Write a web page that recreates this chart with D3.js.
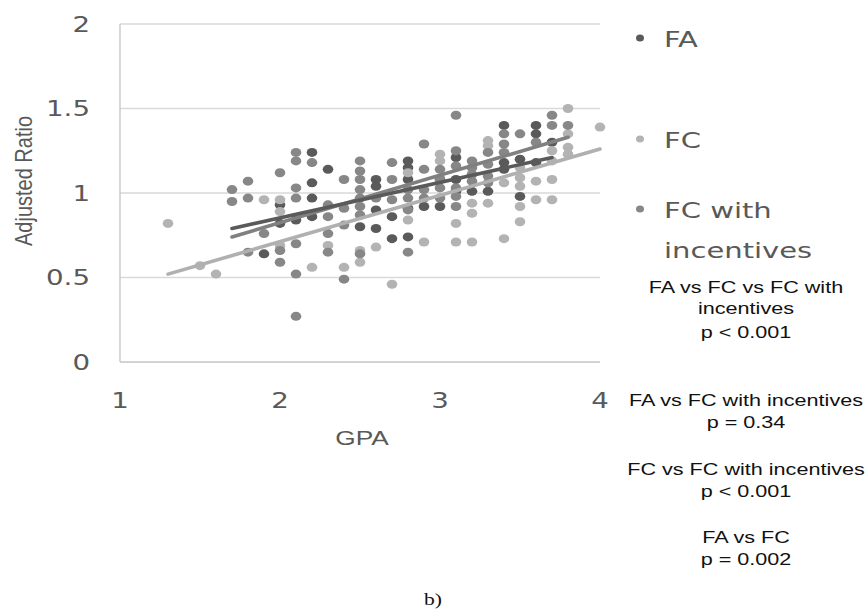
<!DOCTYPE html>
<html lang="en">
<head>
<meta charset="UTF-8">
<title>GPA vs Adjusted Ratio</title>
<script src="https://cdn.jsdelivr.net/npm/d3@7"></script>
<style>
  body { margin: 0; background: #fff; }
</style>
</head>
<body>
<svg width="866" height="610" id="mainsvg"></svg>
<script>
// ---- data: [GPA, adjusted ratio] ----
const faPoints = [
  [1.9, 0.64], [2.0, 0.93], [2.0, 0.82], [2.1, 0.84],
  [2.2, 1.24], [2.2, 1.06], [2.2, 0.97], [2.2, 0.86], [2.3, 1.14],
  [2.5, 0.80], [2.6, 1.08], [2.6, 1.04], [2.6, 0.90], [2.6, 0.79],
  [2.7, 0.86], [2.7, 0.73], [2.8, 1.19], [2.8, 1.15], [2.8, 1.08], [2.8, 0.91], [2.8, 0.74],
  [2.9, 0.92], [3.0, 1.08], [3.0, 0.92], [3.1, 1.21], [3.1, 1.08], [3.1, 1.01],
  [3.2, 1.01], [3.3, 1.01], [3.4, 1.40], [3.4, 1.18], [3.4, 1.14],
  [3.5, 1.20], [3.5, 0.98], [3.6, 1.40], [3.6, 1.35], [3.6, 1.18], [3.7, 1.30]
];
const fcPoints = [
  [1.3, 0.82], [1.5, 0.57], [1.6, 0.52], [1.9, 0.96], [2.0, 0.96], [2.0, 0.89], [2.0, 0.69],
  [2.2, 0.56], [2.3, 0.69], [2.4, 0.56], [2.5, 0.66], [2.5, 0.59], [2.6, 0.68], [2.7, 0.46],
  [2.8, 1.12], [2.8, 0.84], [2.9, 0.71], [3.0, 1.23], [3.0, 1.19],
  [3.1, 0.82], [3.1, 0.71], [3.2, 0.94], [3.2, 0.88], [3.2, 0.71],
  [3.3, 1.31], [3.3, 1.28], [3.3, 0.94], [3.4, 1.06], [3.4, 0.73],
  [3.5, 1.15], [3.5, 1.09], [3.5, 1.04], [3.5, 0.92], [3.5, 0.83],
  [3.6, 1.07], [3.6, 0.96], [3.7, 1.25], [3.7, 1.19], [3.7, 1.08], [3.7, 0.96],
  [3.8, 1.50], [3.8, 1.35], [3.8, 1.27], [3.8, 1.23], [4.0, 1.39]
];
const fciPoints = [
  [1.7, 1.02], [1.7, 0.95], [1.8, 1.07], [1.8, 0.97], [1.8, 0.65], [1.9, 0.76],
  [2.0, 1.12], [2.0, 0.66], [2.0, 0.59],
  [2.1, 1.24], [2.1, 1.19], [2.1, 1.03], [2.1, 0.97], [2.1, 0.70], [2.1, 0.52], [2.1, 0.27],
  [2.2, 1.18], [2.3, 0.93], [2.3, 0.86], [2.3, 0.76], [2.3, 0.65],
  [2.4, 1.08], [2.4, 0.91], [2.4, 0.81], [2.4, 0.49],
  [2.5, 1.19], [2.5, 1.13], [2.5, 1.08], [2.5, 1.02], [2.5, 0.97], [2.5, 0.92], [2.5, 0.87], [2.5, 0.64],
  [2.6, 0.97], [2.7, 1.18], [2.7, 1.08], [2.7, 0.96],
  [2.8, 1.02], [2.8, 0.97], [2.8, 0.90], [2.8, 0.65],
  [2.9, 1.29], [2.9, 1.14], [2.9, 1.02], [2.9, 0.97],
  [3.0, 1.14], [3.0, 1.08], [3.0, 1.03], [3.0, 0.97],
  [3.1, 1.46], [3.1, 1.25], [3.1, 1.16], [3.1, 1.03], [3.1, 0.98], [3.1, 0.92],
  [3.2, 1.19], [3.2, 1.15], [3.2, 1.11], [3.2, 1.07],
  [3.3, 1.24], [3.3, 1.17], [3.3, 1.10], [3.3, 1.06],
  [3.4, 1.35], [3.4, 1.29], [3.4, 1.24], [3.5, 1.35], [3.6, 1.30],
  [3.7, 1.46], [3.7, 1.40], [3.8, 1.40]
];
// linear trend line end points
const faTrend = [[1.7, 0.79], [3.7, 1.21]];
const fcTrend = [[1.3, 0.52], [4.0, 1.26]];
const fciTrend = [[1.7, 0.74], [3.8, 1.33]];

const seriesNames = ['FA', 'FC', 'FC with incentives'];
const xTicks = [1, 2, 3, 4];
const yTicks = [0, 0.5, 1, 1.5, 2];
const statLines = [
  'FA vs FC vs FC with', 'incentives', 'p < 0.001',
  'FA vs FC with incentives', 'p = 0.34',
  'FC vs FC with incentives', 'p < 0.001',
  'FA vs FC', 'p = 0.002'
];

// ---- drawing ----
const svg = d3.select('#mainsvg');
const stretch = 1.35; // picture is wider than tall
const textGrey = '#595959';
const colors = { 'FA': '#5a5a5a', 'FC': '#b3b3b3', 'FC with incentives': '#878787' };

const xScale = d3.scaleLinear().domain([1, 4]).range([120, 600]);
const yScale = d3.scaleLinear().domain([0, 2]).range([362, 24]);

function label(x, y, str, opts) {
  const sx = opts.sx || stretch;
  return svg.append('text')
    .attr('transform', `translate(${x},${y}) scale(${sx},1)` + (opts.rotate ? ` rotate(${opts.rotate})` : ''))
    .attr('text-anchor', opts.anchor || 'start')
    .attr('font-family', opts.family || 'DejaVu Sans')
    .attr('font-size', opts.size)
    .attr('fill', opts.color || textGrey)
    .text(str);
}

// gridlines
svg.append('g').selectAll('line').data(yTicks.filter(d => d > 0)).join('line')
  .attr('x1', xScale(1)).attr('x2', xScale(4))
  .attr('y1', d => yScale(d)).attr('y2', d => yScale(d))
  .attr('stroke', '#d9d9d9').attr('stroke-width', 1.3);

// axis lines
svg.append('line').attr('x1', xScale(1)).attr('x2', xScale(1))
  .attr('y1', yScale(0)).attr('y2', yScale(2))
  .attr('stroke', '#c4c4c4').attr('stroke-width', 1.3);
svg.append('line').attr('x1', xScale(1)).attr('x2', xScale(4))
  .attr('y1', yScale(0)).attr('y2', yScale(0))
  .attr('stroke', '#c4c4c4').attr('stroke-width', 1.3);

// tick labels
yTicks.forEach(d => label(90, yScale(d) + 7.5, d3.format('')(d), { anchor: 'end', size: 20.5 }));
xTicks.forEach(d => label(xScale(d), 408, d, { anchor: 'middle', size: 20.5 }));

// axis titles
label(362, 445, 'GPA', { anchor: 'middle', size: 21, family: 'Liberation Sans', sx: 1.25 });
label(32, 181, 'Adjusted Ratio', { anchor: 'middle', size: 20, family: 'Liberation Sans', rotate: -90, sx: 1.2 });

// points
const allSeries = [
  { name: 'FA', pts: faPoints },
  { name: 'FC', pts: fcPoints },
  { name: 'FC with incentives', pts: fciPoints }
];
allSeries.forEach(s => {
  svg.append('g').selectAll('ellipse').data(s.pts).join('ellipse')
    .attr('cx', d => xScale(d[0]))
    .attr('cy', d => yScale(d[1]))
    .attr('rx', 5.3).attr('ry', 4.5)
    .attr('fill', colors[s.name]);
});

// trend lines
const line = d3.line().x(d => xScale(d[0])).y(d => yScale(d[1]));
[[fcTrend, '#b0b0b0'], [fciTrend, '#808080'], [faTrend, '#5a5a5a']].forEach(([tr, c]) => {
  svg.append('path').datum(tr).attr('d', line)
    .attr('fill', 'none').attr('stroke', c)
    .attr('stroke-width', 3.6).attr('stroke-linecap', 'round');
});

// legend
const legendY = [38, 139, 209];
seriesNames.forEach((n, i) => {
  svg.append('ellipse').attr('cx', 640).attr('cy', legendY[i])
    .attr('rx', 4).attr('ry', 3.5).attr('fill', colors[n]);
});
label(664, 47, 'FA', { size: 21.5 });
label(664, 148, 'FC', { size: 21.5 });
label(664, 218, 'FC with', { size: 21.5 });
label(664, 258, 'incentives', { size: 21.5 });

// statistics notes
const statY = [293, 314, 338, 406, 428, 475, 497, 543, 565];
statLines.forEach((s, i) => label(746, statY[i], s, { anchor: 'middle', size: 16, family: 'Liberation Sans', color: '#111' }));

// caption
label(433, 605, 'b)', { anchor: 'middle', size: 16, family: 'Liberation Serif', color: '#111' });
</script>
</body>
</html>
